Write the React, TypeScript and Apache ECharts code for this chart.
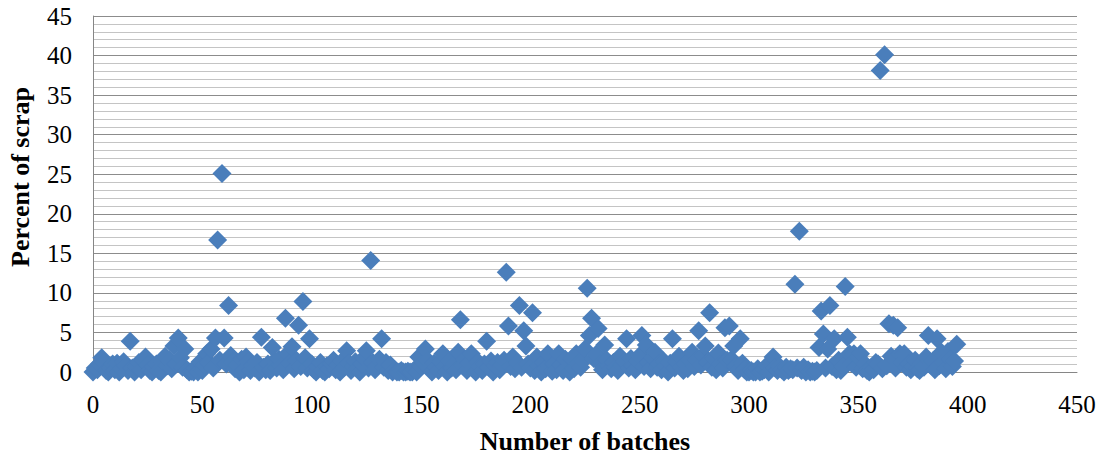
import React, { useEffect, useRef } from "react";
import * as echarts from "echarts";

// Percent of scrap per batch, batch number = index (0..395)
const scrap0to99: number[] = [
  0, 0.5, 0.3, 1.0, 1.8, 1.2, 0.2, 0, 0.6, 1.0,
  0.3, 1.1, 0, 0.4, 1.3, 0.8, 0.2, 3.9, 0.5, 0,
  0.7, 1.2, 0.3, 1.5, 1.9, 0.9, 0.2, 0, 0.6, 1.0,
  0.2, 0, 1.2, 2.0, 0.8, 1.5, 0.4, 3.3, 1.0, 4.3,
  1.8, 0.6, 2.9, 0.3, 0, 0.1, 0, 0.4, 0, 1.3,
  0.2, 0.8, 2.3, 1.2, 2.9, 0.5, 4.3, 16.7, 1.5, 25.1,
  4.3, 1.0, 8.4, 2.1, 1.3, 0.4, 0.9, 0, 1.6, 0.3,
  1.9, 1.3, 0.2, 0.8, 0.5, 1.2, 0, 4.4, 0.6, 0.3,
  1.0, 0.2, 3.1, 1.4, 0.5, 1.6, 0.8, 0.3, 6.8, 2.3,
  1.1, 3.2, 0.4, 1.5, 5.9, 0.7, 8.9, 1.8, 0.5, 4.2,
];
const scrap100to199: number[] = [
  1.0, 0.3, 0, 0.6, 1.2, 0.2, 0, 0.8, 0.4, 1.1,
  1.5, 0.3, 0.9, 0, 1.4, 0.6, 2.7, 1.1, 0.2, 0.7,
  1.3, 0.4, 0, 1.0, 1.8, 2.7, 0.5, 14.1, 1.2, 0.3,
  0.8, 1.6, 4.2, 0.6, 1.2, 0.2, 0.9, 0, 0.3, 0,
  0, 0.2, 0, 0, 0.1, 0, 0, 0.3, 0, 1.9,
  0.8, 1.2, 2.9, 1.5, 0.4, 0, 1.1, 0.6, 0.2, 1.3,
  2.3, 0.7, 0, 1.4, 0.5, 1.0, 0.3, 2.5, 6.6, 0.8,
  1.6, 0.2, 1.1, 2.3, 0.5, 0, 1.3, 0.7, 0.2, 1.0,
  3.9, 0.6, 1.4, 0, 0.8, 1.2, 0.3, 0.9, 1.5, 12.6,
  5.8, 0.7, 1.9, 0.4, 1.2, 8.4, 0.6, 5.2, 3.3, 1.0,
];
const scrap200to299: number[] = [
  0.5, 7.5, 0.2, 1.9, 0.8, 0, 1.2, 0.4, 2.3, 0.7,
  0.1, 1.0, 0.3, 2.3, 0.9, 0.2, 1.6, 0.5, 0, 1.6,
  0.4, 2.3, 1.1, 0.6, 1.4, 2.9, 10.6, 4.6, 6.8, 1.7,
  2.2, 5.5, 1.0, 0.3, 3.4, 1.5, 0.8, 0.4, 1.2, 0.6,
  0.2, 2.0, 0.9, 1.3, 4.2, 0.5, 1.7, 0.8, 0.3, 1.5,
  2.1, 4.6, 0.7, 3.4, 1.2, 0.4, 1.8, 2.5, 0.6, 1.0,
  0.3, 1.4, 0.8, 0, 1.1, 4.2, 0.5, 1.3, 2.0, 0.6,
  0.2, 1.0, 0.4, 1.5, 2.5, 0.7, 1.6, 5.2, 0.9, 2.1,
  3.3, 1.2, 7.5, 0.6, 1.8, 0.3, 2.4, 1.0, 0.5, 5.6,
  1.5, 5.8, 1.6, 3.3, 0.7, 0.2, 4.2, 1.1, 0.3, 0,
];
const scrap300to395: number[] = [
  0, 0.2, 0, 0, 0.4, 0, 0.1, 0.3, 0.8, 0,
  1.1, 1.9, 0.5, 0.2, 0.7, 0.3, 0, 0.6, 0.2, 0.4,
  0.3, 11.1, 0.5, 17.8, 0.2, 0.6, 0, 0.3, 0, 0.1,
  0, 0.2, 3.1, 7.7, 4.8, 0.5, 2.9, 8.4, 0.7, 4.2,
  0.3, 1.5, 0.2, 0.8, 10.8, 4.4, 2.3, 1.1, 2.3, 0.6,
  1.9, 2.3, 0.4, 1.0, 0.2, 0, 0.6, 0.3, 1.2, 1.0,
  38.1, 0.4, 40.1, 0.8, 6.1, 2.0, 5.9, 0.5, 5.6, 2.3,
  1.2, 2.3, 0.6, 1.0, 0.3, 0.8, 1.5, 0.4, 0.2, 1.1,
  0.6, 1.9, 4.6, 0.9, 1.4, 0.3, 4.2, 0.8, 2.5, 1.2,
  0.4, 2.6, 1.6, 0.7, 1.4, 3.5,
];

const xTitle = "Number of batches";
const yTitle = "Percent of scrap";

export default function App() {
  const ref = useRef<HTMLDivElement>(null);
  useEffect(() => {
    if (!ref.current) return;
    const chart = echarts.init(ref.current, undefined, { renderer: "svg" });
    const all = [...scrap0to99, ...scrap100to199, ...scrap200to299, ...scrap300to395];
    const data = all.map((v, i) => [i, v]);
    const serif = "serif";
    chart.setOption({
      animation: false,
      backgroundColor: "#ffffff",
      textStyle: { fontFamily: serif },
      grid: { left: 93, right: 25, top: 16, bottom: 86, containLabel: false },
      xAxis: {
        type: "value",
        min: 0,
        max: 450,
        interval: 50,
        axisLine: { show: true, lineStyle: { color: "#868686", width: 1 } },
        axisTick: { show: false },
        splitLine: { show: false },
        axisLabel: { color: "#000", fontFamily: serif, fontSize: 25, margin: 20 },
        name: xTitle,
        nameLocation: "middle",
        nameGap: 56,
        nameTextStyle: { color: "#000", fontFamily: serif, fontSize: 26, fontWeight: "bold" },
      },
      yAxis: {
        type: "value",
        min: 0,
        max: 45,
        interval: 5,
        axisLine: { show: true, lineStyle: { color: "#868686", width: 1 } },
        axisTick: { show: false },
        splitLine: { show: true, lineStyle: { color: "#8c8c8c", width: 1 } },
        minorTick: { show: false, splitNumber: 5 },
        minorSplitLine: { show: true, lineStyle: { color: "#c4c4c4", width: 1 } },
        axisLabel: { color: "#000", fontFamily: serif, fontSize: 25, margin: 21 },
      },
      graphic: [
        {
          type: "text",
          x: 20,
          y: 177,
          rotation: Math.PI / 2,
          style: {
            text: yTitle,
            fontFamily: serif,
            fontSize: 26,
            fontWeight: "bold",
            fill: "#000",
            align: "center",
            verticalAlign: "middle",
          },
        },
      ],
      series: [
        {
          type: "scatter",
          data,
          symbol: "diamond",
          symbolSize: 19,
          itemStyle: { color: "#4a7ebb", opacity: 1 },
          emphasis: { disabled: true },
        },
      ],
    });
    return () => chart.dispose();
  }, []);
  return (
    <div
      ref={ref}
      style={{ position: "fixed", left: 0, top: 0, width: 1102, height: 459, background: "#fff" }}
    />
  );
}
